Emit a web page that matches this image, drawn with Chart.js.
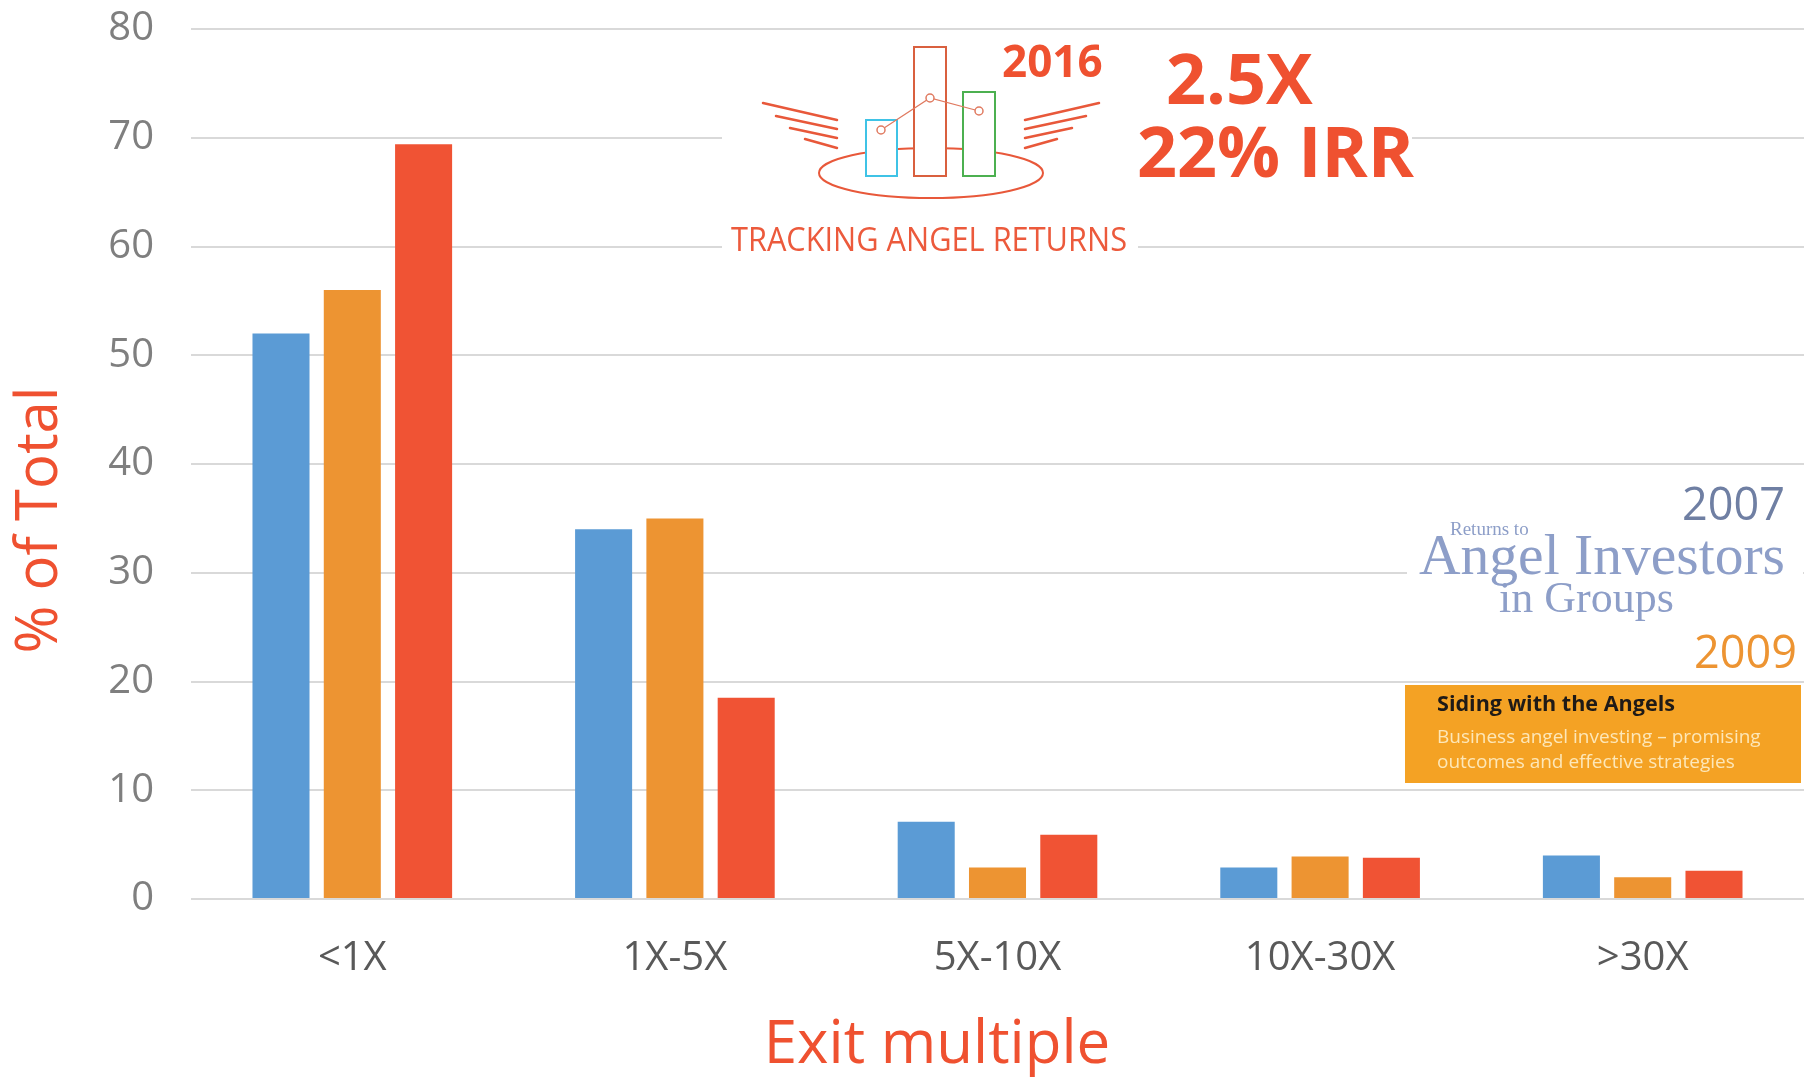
<!DOCTYPE html>
<html>
<head>
<meta charset="utf-8">
<title>Exit multiple distribution</title>
<script src="https://cdn.jsdelivr.net/npm/chart.js@4"></script>
<style>
  html, body { margin: 0; padding: 0; background: #fff; }
  #wrap { width: 1812px; height: 1080px; position: relative; }
</style>
</head>
<body>
<div id="wrap"><canvas id="exitChart"></canvas></div>
<script>
const categories = ["<1X", "1X-5X", "5X-10X", "10X-30X", ">30X"];
const seriesNames = ["2007", "2009", "2016"];
const returns2007 = [52, 34, 7.1, 2.9, 4.0];
const returns2009 = [56, 35, 2.9, 3.9, 2.0];
const returns2016 = [69.4, 18.5, 5.9, 3.8, 2.6];
const yMin = 0;
const yMax = 80;
const yStep = 10;

const BLUE = "#5b9bd5";
const ORANGE = "#ed9432";
const RED = "#f05334";
const TITLE_RED = "#ef5130";

function line(ctx, x1, y1, x2, y2) {
  ctx.beginPath();
  ctx.moveTo(x1, y1);
  ctx.lineTo(x2, y2);
  ctx.stroke();
}

function drawLogo2016(ctx) {
  // little bar-chart icon with wings, as on the 2016 report cover
  ctx.lineCap = "round";
  ctx.strokeStyle = "#e8583a";
  ctx.lineWidth = 2.5;
  const wing = [[763, 103, 837, 120], [776, 116, 837, 129], [790, 128, 837, 138], [805, 139, 837, 148]];
  wing.forEach(([x1, y1, x2, y2]) => {
    line(ctx, x1, y1, x2, y2);
    line(ctx, 1862 - x1, y1, 1862 - x2, y2);
  });

  ctx.lineWidth = 2;
  ctx.beginPath();
  ctx.ellipse(931, 173, 112, 25, 0, 0, Math.PI * 2);
  ctx.stroke();

  const icons = [[866, 120, 31, 56, "#3fc3e6"], [914, 47, 32, 129, "#d9603f"], [963, 92, 32, 84, "#4cb050"]];
  icons.forEach(([x, y, w, h, c]) => {
    ctx.fillStyle = "#fff";
    ctx.fillRect(x, y, w, h);
    ctx.strokeStyle = c;
    ctx.lineWidth = 2;
    ctx.strokeRect(x, y, w, h);
  });

  ctx.strokeStyle = "#e07a60";
  ctx.lineWidth = 1.2;
  ctx.beginPath();
  ctx.moveTo(881, 130);
  ctx.lineTo(930, 98);
  ctx.lineTo(979, 111);
  ctx.stroke();
  [[881, 130], [930, 98], [979, 111]].forEach(([x, y]) => {
    ctx.beginPath();
    ctx.arc(x, y, 4, 0, Math.PI * 2);
    ctx.fillStyle = "#fff";
    ctx.fill();
    ctx.lineWidth = 1.5;
    ctx.stroke();
  });
}

const decorations = {
  id: "decorations",
  afterDraw(chart) {
    const ctx = chart.ctx;
    const area = chart.chartArea;
    ctx.save();

    // white patches where the report covers sit over the gridlines
    ctx.fillStyle = "#fff";
    ctx.fillRect(722, 36, 416, 226);
    ctx.fillRect(1138, 36, 274, 158);
    ctx.fillRect(1407, 478, 396, 142);

    drawLogo2016(ctx);

    ctx.textBaseline = "alphabetic";
    ctx.fillStyle = TITLE_RED;
    ctx.textAlign = "left";
    ctx.font = "bold 44px 'Open Sans'";
    ctx.fillText(seriesNames[2], 1002, 77);
    ctx.font = "bold 70px 'Open Sans'";
    ctx.fillText("2.5X", 1166, 104);
    ctx.fillText("22% IRR", 1137, 177);

    ctx.fillStyle = "#ec5a3c";
    ctx.font = "33px 'Open Sans'";
    ctx.fillText("TRACKING ANGEL RETURNS", 731, 251, 396);

    // 2007 report
    ctx.textAlign = "right";
    ctx.fillStyle = "#6f7fa3";
    ctx.font = "45px 'Open Sans'";
    ctx.fillText(seriesNames[0], 1785, 520);
    ctx.textAlign = "left";
    ctx.fillStyle = "#8d9ec8";
    ctx.font = "19px 'Liberation Serif', serif";
    ctx.fillText("Returns to", 1450, 535);
    ctx.font = "58px 'Liberation Serif', serif";
    ctx.fillText("Angel Investors", 1419, 574, 366);
    ctx.font = "44px 'Liberation Serif', serif";
    ctx.fillText("in Groups", 1499, 612);

    // 2009 report
    ctx.textAlign = "right";
    ctx.fillStyle = ORANGE;
    ctx.font = "45px 'Open Sans'";
    ctx.fillText(seriesNames[1], 1797, 668);
    ctx.fillStyle = "#f4a224";
    ctx.fillRect(1405, 685, 396, 98);
    ctx.textAlign = "left";
    ctx.fillStyle = "#1f1a17";
    ctx.font = "bold 22px 'Open Sans'";
    ctx.fillText("Siding with the Angels", 1437, 711, 238);
    ctx.fillStyle = "#fde7b8";
    ctx.font = "19px 'Open Sans'";
    ctx.fillText("Business angel investing \u2013 promising", 1437, 743, 331);
    ctx.fillText("outcomes and effective strategies", 1437, 768, 300);

    // axis titles
    ctx.fillStyle = TITLE_RED;
    ctx.textAlign = "center";
    ctx.textBaseline = "middle";
    ctx.font = "60px 'Open Sans'";
    ctx.fillText("Exit multiple", area.left + 746, 1046);
    ctx.save();
    ctx.translate(40, area.top + 491);
    ctx.rotate(-Math.PI / 2);
    ctx.font = "58px 'Open Sans'";
    ctx.fillText("% of Total", 0, 0);
    ctx.restore();

    ctx.restore();
  },
};

new Chart(document.getElementById("exitChart"), {
  type: "bar",
  data: {
    labels: categories,
    datasets: [
      { label: seriesNames[0], data: returns2007, backgroundColor: BLUE },
      { label: seriesNames[1], data: returns2009, backgroundColor: ORANGE },
      { label: seriesNames[2], data: returns2016, backgroundColor: RED },
    ],
  },
  options: {
    responsive: true,
    maintainAspectRatio: false,
    animation: false,
    categoryPercentage: 0.663,
    barPercentage: 0.8,
    layout: { padding: { top: 29, right: 8, left: 0, bottom: 0 } },
    plugins: {
      legend: { display: false },
      tooltip: { enabled: false },
    },
    scales: {
      x: {
        grid: { display: false, drawTicks: false },
        border: { display: false },
        ticks: {
          color: "#595959",
          font: { family: "'Open Sans'", size: 40 },
          padding: 36,
        },
        afterFit(scale) {
          scale.height = 181;
        },
      },
      y: {
        min: yMin,
        max: yMax,
        grid: { color: "#d9d9d9", lineWidth: 2, drawTicks: false },
        border: { display: false },
        ticks: {
          stepSize: yStep,
          color: "#7f7f7f",
          font: { family: "'Open Sans'", size: 40 },
          padding: 37,
        },
        afterFit(scale) {
          scale.width = 191;
          scale.paddingTop = 0;
          scale.paddingBottom = 0;
        },
      },
    },
  },
  plugins: [decorations],
});
</script>
</body>
</html>
